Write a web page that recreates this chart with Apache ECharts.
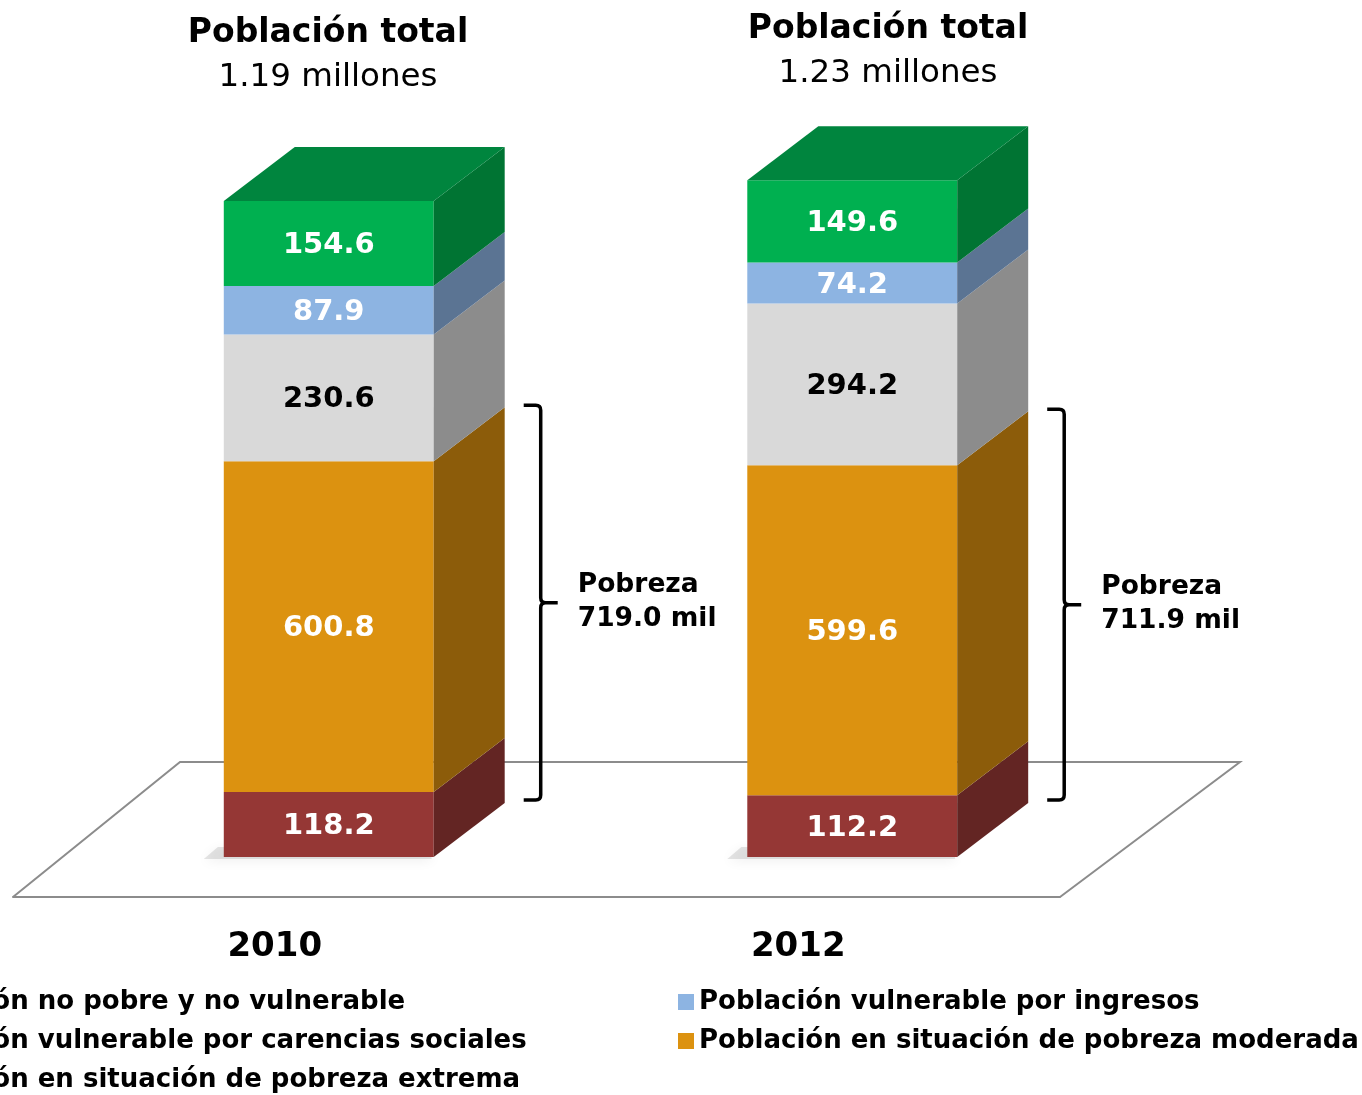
<!DOCTYPE html>
<html>
<head>
<meta charset="utf-8">
<script src="https://cdn.jsdelivr.net/npm/echarts@6/dist/echarts.min.js"></script>
<style>
  html, body { margin: 0; padding: 0; background: #fff; }
  #chart { width: 1362px; height: 1095px; }
</style>
</head>
<body>
<div id="chart"></div>
<script>
// datos (miles de personas)
var years = ['2010', '2012'];
var extrema = [118.2, 112.2];
var moderada = [600.8, 599.6];
var carencias = [230.6, 294.2];
var ingresos = [87.9, 74.2];
var noPobre = [154.6, 149.6];
var pobrezaTxt = ['719.0', '711.9'];
var totalTxt = ['1.19', '1.23'];

var FONT = '"DejaVu Sans", Verdana, sans-serif';
var BAR_RATIO = 0.401;      // ancho de barra / banda
var SHIFT_X = 54, SHIFT_Y = -40;   // barra metida en el piso
var DX = 71, DY = -54;      // profundidad de la barra

var segs = [
	{ name: 'Población en situación de pobreza extrema', vals: extrema, front: '#953735', side: '#632523', top: '#7a2c2a', txt: '#fff' },
	{ name: 'Población en situación de pobreza moderada', vals: moderada, front: '#dc9210', side: '#8c5c0a', top: '#b5770c', txt: '#fff' },
	{ name: 'Población vulnerable por carencias sociales', vals: carencias, front: '#d9d9d9', side: '#8c8c8c', top: '#b0b0b0', txt: '#000' },
	{ name: 'Población vulnerable por ingresos', vals: ingresos, front: '#8db4e2', side: '#5b7493', top: '#7396c0', txt: '#fff' },
	{ name: 'Población no pobre y no vulnerable', vals: noPobre, front: '#00b050', side: '#007433', top: '#00853e', txt: '#fff' }
];

// acumulados
var base = [0, 0];
segs.forEach(function (s) {
	s.data = s.vals.map(function (v, i) {
		var d = [i, base[i], base[i] + v, v];
		base[i] += v;
		return d;
	});
});

function makeSeg(k) {
	var s = segs[k];
	var isTop = k === segs.length - 1;
	return function (params, api) {
		var cat = api.value(0);
		var pLo = api.coord([cat, api.value(1)]);
		var pHi = api.coord([cat, api.value(2)]);
		var w = api.size([1, 0])[0] * BAR_RATIO;
		var xl = pLo[0] - w / 2 + SHIFT_X, xr = xl + w;
		var yb = pLo[1] + SHIFT_Y, yt = pHi[1] + SHIFT_Y;
		var children = [];
		if (k === 0) {
			// sombra sobre el piso
			children.push({
				type: 'polygon',
				shape: { points: [[xl - 6, yb - 10], [xr - 4, yb - 10], [xr - 2, yb + 2], [xl - 20, yb + 2]] },
				style: { fill: 'rgba(0,0,0,0.10)', shadowBlur: 12, shadowOffsetY: 2, shadowColor: 'rgba(0,0,0,0.6)' }
			});
		}
		children.push({
			type: 'rect',
			shape: { x: xl, y: yt, width: w, height: yb - yt },
			style: { fill: s.front }
		});
		children.push({
			type: 'polygon',
			shape: { points: [[xr, yb], [xr, yt], [xr + DX, yt + DY], [xr + DX, yb + DY]] },
			style: { fill: s.side }
		});
		if (isTop) {
			children.push({
				type: 'polygon',
				shape: { points: [[xl, yt], [xr, yt], [xr + DX, yt + DY], [xl + DX, yt + DY]] },
				style: { fill: s.top }
			});
		}
		children.push({
			type: 'text',
			style: {
				x: (xl + xr) / 2, y: (yb + yt) / 2 + 2,
				text: api.value(3).toFixed(1),
				fill: s.txt, font: 'bold 29px ' + FONT,
				align: 'center', verticalAlign: 'middle'
			}
		});
		return { type: 'group', children: children };
	};
}

var series = [];

// piso
series.push({
	type: 'custom',
	silent: true,
	data: [[0]],
	z: 1,
	renderItem: function (params, api) {
		var cs = params.coordSys;
		var y0 = cs.y + cs.height;
		return {
			type: 'polyline',
			shape: { points: [[cs.x, y0], [cs.x + 167, y0 - 135], [cs.x + cs.width + 180, y0 - 135], [cs.x + cs.width, y0]] },
			style: { stroke: '#8c8c8c', lineWidth: 2, fill: null }
		};
	}
});

segs.forEach(function (s, k) {
	series.push({
		name: s.name,
		type: 'custom',
		z: 3,
		encode: { x: 0, y: [1, 2] },
		data: s.data,
		itemStyle: { color: s.front },
		renderItem: makeSeg(k)
	});
});

// llaves de pobreza
series.push({
	type: 'custom',
	silent: true,
	z: 4,
	encode: { x: 0, y: [1, 2] },
	data: years.map(function (y, i) { return [i, 0, extrema[i] + moderada[i]]; }),
	renderItem: function (params, api) {
		var cat = api.value(0);
		var pLo = api.coord([cat, api.value(1)]);
		var pHi = api.coord([cat, api.value(2)]);
		var w = api.size([1, 0])[0] * BAR_RATIO;
		var xv = pLo[0] + w / 2 + SHIFT_X + DX + 36;
		var yb = pLo[1] + SHIFT_Y + DY - 3, yt = pHi[1] + SHIFT_Y + DY - 2;
		var ym = (yb + yt) / 2;
		var r = 5;
		var d = 'M' + (xv - 17) + ' ' + yt + ' L' + (xv - r) + ' ' + yt +
			' Q' + xv + ' ' + yt + ' ' + xv + ' ' + (yt + r) +
			' L' + xv + ' ' + (ym - r) +
			' Q' + xv + ' ' + ym + ' ' + (xv + r) + ' ' + ym +
			' L' + (xv + 17) + ' ' + ym +
			' M' + (xv + r) + ' ' + ym +
			' Q' + xv + ' ' + ym + ' ' + xv + ' ' + (ym + r) +
			' L' + xv + ' ' + (yb - r) +
			' Q' + xv + ' ' + yb + ' ' + (xv - r) + ' ' + yb +
			' L' + (xv - 17) + ' ' + yb;
		return {
			type: 'group',
			children: [{
				type: 'path',
				shape: { pathData: d },
				style: { stroke: '#000', lineWidth: 3.5, fill: null }
			}, {
				type: 'text',
				style: {
					x: xv + 37, y: ym - 1,
					text: 'Pobreza\n' + pobrezaTxt[params.dataIndex] + ' mil',
					fill: '#000', font: 'bold 26.5px ' + FONT,
					lineHeight: 34, align: 'left', verticalAlign: 'middle'
				}
			}]
		};
	}
});

var legendText = { fontFamily: FONT, fontSize: 26, fontWeight: 'bold', color: '#000', lineHeight: 28 };

var chart = echarts.init(document.getElementById('chart'));
chart.setOption({
	animation: false,
	backgroundColor: '#fff',
	title: [
		{ text: 'Población total', subtext: totalTxt[0] + ' millones', left: 323, top: 12, textAlign: 'center', itemGap: 11,
			textStyle: { fontFamily: FONT, fontSize: 33, fontWeight: 'bold', color: '#000' },
			subtextStyle: { fontFamily: FONT, fontSize: 32.5, color: '#000' } },
		{ text: 'Población total', subtext: totalTxt[1] + ' millones', left: 883, top: 8, textAlign: 'center', itemGap: 11,
			textStyle: { fontFamily: FONT, fontSize: 33, fontWeight: 'bold', color: '#000' },
			subtextStyle: { fontFamily: FONT, fontSize: 32.5, color: '#000' } }
	],
	legend: [
		{ data: [segs[4].name, segs[2].name, segs[0].name], orient: 'vertical', left: -135, top: 988, padding: 0,
			itemWidth: 16, itemHeight: 16, itemGap: 11, icon: 'rect', selectedMode: false, textStyle: legendText },
		{ data: [segs[3].name, segs[1].name], orient: 'vertical', left: 678, top: 988, padding: 0,
			itemWidth: 16, itemHeight: 16, itemGap: 11, icon: 'rect', selectedMode: false, textStyle: legendText }
	],
	grid: { left: 13, right: 302, top: 126.6, bottom: 198 },
	xAxis: {
		type: 'category',
		data: years,
		axisLine: { lineStyle: { color: '#8c8c8c', width: 2 } },
		axisTick: { length: 11, lineStyle: { color: '#8c8c8c', width: 2 } },
		axisLabel: { margin: 33, fontFamily: FONT, fontSize: 34, fontWeight: 'bold', color: '#000' },
		z: 2
	},
	yAxis: { type: 'value', min: 0, max: 1400, show: false },
	series: series
});
</script>
</body>
</html>
